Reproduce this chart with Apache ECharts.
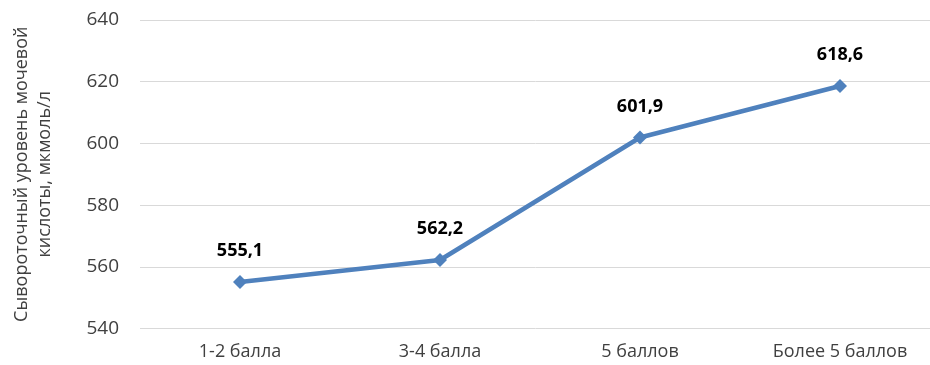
<!DOCTYPE html>
<html><head><meta charset="utf-8">
<script src="https://cdn.jsdelivr.net/npm/echarts@6/dist/echarts.min.js"></script>
<style>html,body{margin:0;padding:0;background:#fff}#c{width:930px;height:365px}</style>
</head><body><div id="c"></div>
<script>
const categories = ['1-2 балла', '3-4 балла', '5 баллов', 'Более 5 баллов'];
const values = [555.1, 562.2, 601.9, 618.6];
const yTicks = [540, 560, 580, 600, 620, 640];
const yAxisTitle = 'Сывороточный уровень мочевой\nкислоты, мкмоль/л';

const chart = echarts.init(document.getElementById('c'));
chart.setOption({
  animation: false,
  grid: { left: 140, width: 800, top: 20, bottom: 36.5, outerBoundsMode: 'none', containLabel: false },
  xAxis: {
    type: 'category', data: categories, boundaryGap: true,
    axisLine: { show: false }, axisTick: { show: false },
    axisLabel: { fontFamily: 'Open Sans', fontSize: 18, color: '#404040', margin: 14 }
  },
  yAxis: {
    type: 'value', min: yTicks[0], max: yTicks[yTicks.length - 1], interval: 20,
    axisLine: { show: false }, axisTick: { show: false },
    splitLine: { lineStyle: { color: '#d9d9d9', width: 1 } },
    axisLabel: { fontFamily: 'Open Sans', fontSize: 19, color: '#404040', margin: 21 },
    name: yAxisTitle, nameLocation: 'middle', nameGap: 84, nameRotate: 90,
    nameTextStyle: { fontFamily: 'Open Sans', fontSize: 18, color: '#404040', lineHeight: 23 }
  },
  series: [{
    type: 'line', data: values,
    lineStyle: { color: '#4f81bd', width: 4.5 },
    itemStyle: { color: '#4f81bd' },
    symbol: 'diamond', symbolSize: 14,
    label: {
      show: true, position: 'top', distance: 15,
      fontFamily: 'Open Sans', fontWeight: 'bold', fontSize: 18, color: '#000',
      formatter: p => String(p.value).replace('.', ',')
    }
  }]
});
</script></body></html>
